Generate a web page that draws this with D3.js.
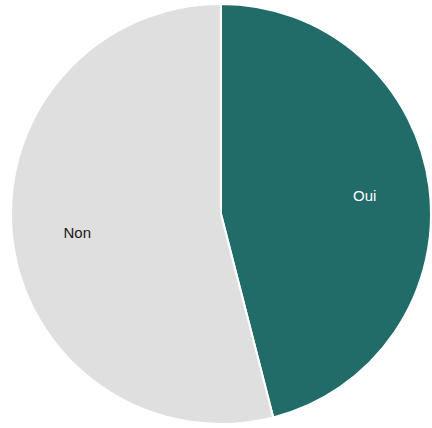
<!DOCTYPE html>
<html>
<head>
<meta charset="utf-8">
<script src="https://cdn.jsdelivr.net/npm/d3@7"></script>
<style>
  html, body { margin: 0; padding: 0; background: #ffffff; }
  svg { display: block; }
</style>
</head>
<body>
<svg id="chart" width="432" height="428"></svg>
<script>
// Survey answers and their shares (percent)
const categories = ["Oui", "Non"];
const values = [46, 54];
const colors = ["#216b68", "#e0dfe0"];
const labelColors = ["#ffffff", "#1a1a1a"];

const width = 432, height = 428;
const cx = 221, cy = 214, radius = 210;

const svg = d3.select("#chart");
const g = svg.append("g").attr("transform", `translate(${cx},${cy})`);

const pie = d3.pie().sort(null).value(d => d.value);
const data = categories.map((c, i) => ({ label: c, value: values[i], color: colors[i], text: labelColors[i] }));
const arcs = pie(data);

const arc = d3.arc().innerRadius(0).outerRadius(radius);
const labelArc = d3.arc().innerRadius(radius * 0.69).outerRadius(radius * 0.69);

g.selectAll("path.slice")
  .data(arcs)
  .join("path")
  .attr("class", "slice")
  .attr("d", arc)
  .attr("fill", d => d.data.color)
  .attr("stroke", "#ffffff")
  .attr("stroke-width", 2);

g.selectAll("text.label")
  .data(arcs)
  .join("text")
  .attr("class", "label")
  .attr("transform", d => `translate(${labelArc.centroid(d)})`)
  .attr("text-anchor", "middle")
  .attr("dominant-baseline", "central")
  .attr("font-family", "Liberation Sans, Arial, sans-serif")
  .attr("font-size", 15)
  .attr("fill", d => d.data.text)
  .text(d => d.data.label);
</script>
</body>
</html>
